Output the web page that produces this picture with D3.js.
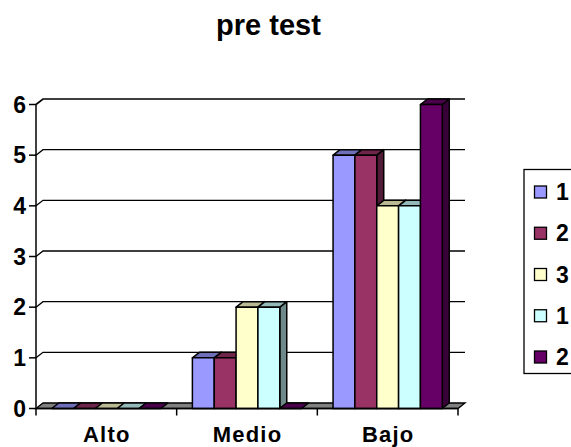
<!DOCTYPE html>
<html>
<head>
<meta charset="utf-8">
<script src="https://cdn.jsdelivr.net/npm/d3@7/dist/d3.min.js"></script>
<style>
html,body{margin:0;padding:0;background:#fff;overflow:hidden}
text{font-family:"Liberation Sans",Arial,sans-serif;font-weight:bold;fill:#000}
</style>
</head>
<body>
<svg id="chart" width="571" height="447"></svg>
<script>
const categories = ["Alto", "Medio", "Bajo"];
const seriesNames = ["1", "2", "3", "1", "2"];
const seriesA = [0, 1, 5];
const seriesB = [0, 1, 5];
const seriesC = [0, 2, 4];
const seriesD = [0, 2, 4];
const seriesE = [0, 0, 6];
const yTicks = [0, 1, 2, 3, 4, 5, 6];
const frontColors = ["#9999ff", "#993366", "#ffffcc", "#ccffff", "#660066"];
const titleText = "pre test";

const allSeries = [seriesA, seriesB, seriesC, seriesD, seriesE];
const svg = d3.select("#chart");

// Plot frame and the oblique offset of the 3D projection
const depthX = 7, depthY = 5.5;
const x0 = d3.scaleBand().domain(categories).range([36, 458]).paddingInner(0).paddingOuter(0);
const x1 = d3.scaleBand().domain(d3.range(allSeries.length)).range([0, x0.bandwidth()]).paddingInner(0).paddingOuter(0.72);
const y = d3.scaleLinear().domain([0, 6]).range([408.5, 104.5]);

const line = d3.line();
const shade = (c, k) => d3.rgb(c).darker(k).formatHex();

svg.append("text").attr("x", 268.5).attr("y", 35).attr("text-anchor", "middle")
  .style("font-size", "29px").text(titleText);

// Gridlines on the back wall, joined to the axis by a short slanted segment
const grid = svg.append("g");
yTicks.filter(t => t > 0).forEach(t => {
  grid.append("path")
    .attr("d", line([[36, y(t)], [36 + depthX, y(t) - depthY], [458 + depthX, y(t) - depthY]]))
    .attr("fill", "none").attr("stroke", "#000").attr("stroke-width", t === 6 ? 1.6 : 1.3);
});

// Grey floor of the plot
svg.append("path")
  .attr("d", line([[36, y(0)], [36 + depthX, y(0) - depthY], [458 + depthX, y(0) - depthY], [458, y(0)]]) + "Z")
  .attr("fill", "#808080").attr("stroke", "#000").attr("stroke-width", 1.3);

// Bars, each made of side, top and front faces
const bars = svg.append("g").attr("stroke", "#000").attr("stroke-width", 1.5).attr("stroke-linejoin", "round");
categories.forEach((cat, ci) => {
  allSeries.forEach((vals, si) => {
    const v = vals[ci];
    const left = x0(cat) + x1(si), right = left + x1.bandwidth();
    const top = y(v), base = y(0);
    const col = frontColors[si];
    if (v > 0) {
      bars.append("path")
        .attr("d", line([[right, top], [right + depthX, top - depthY], [right + depthX, base - depthY], [right, base]]) + "Z")
        .attr("fill", shade(col, 1.75));
    }
    bars.append("path")
      .attr("d", line([[left, top], [left + depthX, top - depthY], [right + depthX, top - depthY], [right, top]]) + "Z")
      .attr("fill", shade(col, 0.9));
    if (v > 0) {
      bars.append("rect")
        .attr("x", left).attr("y", top).attr("width", x1.bandwidth()).attr("height", base - top)
        .attr("fill", col);
    }
  });
});

// Value axis
const axisG = svg.append("g").attr("stroke", "#000").attr("stroke-width", 1.5);
axisG.append("line").attr("x1", 36).attr("x2", 36).attr("y1", y(6)).attr("y2", y(0));
yTicks.forEach(t => {
  axisG.append("line").attr("x1", 29).attr("x2", 36).attr("y1", y(t)).attr("y2", y(t));
  svg.append("text").attr("x", 26).attr("y", y(t) + 8).attr("text-anchor", "end")
    .style("font-size", "23px").text(t);
});

// Category axis
axisG.append("line").attr("x1", 36).attr("x2", 458).attr("y1", y(0)).attr("y2", y(0));
[...categories.map(c => x0(c)), 458].forEach(px => {
  axisG.append("line").attr("x1", px).attr("x2", px).attr("y1", y(0)).attr("y2", y(0) + 7);
});
categories.forEach(c => {
  svg.append("text").attr("x", x0(c) + x0.bandwidth() / 2 + 0.5).attr("y", 442).attr("text-anchor", "middle")
    .style("font-size", "22px").style("letter-spacing", "1.2px").text(c);
});

// Legend box, running off the right edge
svg.append("rect").attr("x", 524).attr("y", 169.5).attr("width", 60).attr("height", 204)
  .attr("fill", "#fff").attr("stroke", "#000").attr("stroke-width", 1.3);
const legendY = d3.scalePoint().domain(d3.range(seriesNames.length)).range([192, 357]);
seriesNames.forEach((name, i) => {
  svg.append("rect").attr("x", 534.5).attr("y", legendY(i) - 6).attr("width", 12).attr("height", 12)
    .attr("fill", frontColors[i]).attr("stroke", "#000").attr("stroke-width", 1.3);
  svg.append("text").attr("x", 556).attr("y", legendY(i) + 8).style("font-size", "23px").text(name);
});
</script>
</body>
</html>
